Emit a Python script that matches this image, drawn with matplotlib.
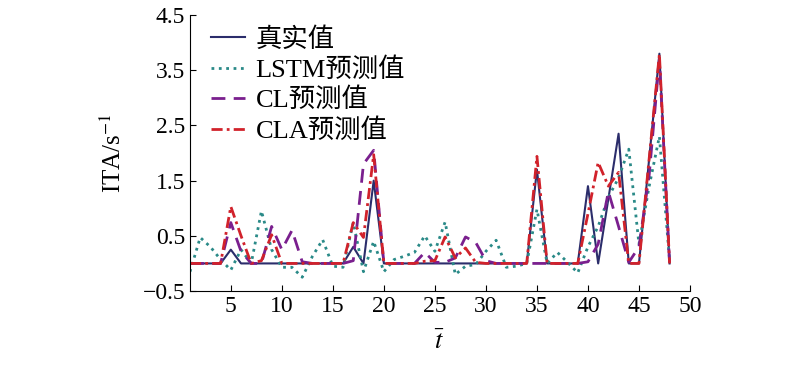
import matplotlib
matplotlib.use('Agg')
import matplotlib.pyplot as plt

plt.rcParams['font.family'] = ['Liberation Serif', 'Noto Sans CJK SC']
plt.rcParams['mathtext.fontset'] = 'stix'

# time steps 1..48
t = list(range(1, 49))

true_vals = [0, 0, 0, 0, 0.25, 0, 0, 0, 0, 0,
             0, 0, 0, 0, 0, 0, 0.3, 0, 1.5, 0,
             0, 0, 0, 0, 0, 0, 0, 0, 0, 0,
             0, 0, 0, 0, 1.7, 0, 0, 0, 0, 1.4,
             0, 1.17, 2.35, 0, 0, 1.9, 3.8, 0]

lstm_vals = [-0.15, 0.47, 0.3, 0.07, -0.12, 0.25, 0.0, 0.95, 0.25, -0.07,
             -0.07, -0.25, 0.13, 0.43, -0.05, -0.07, 0.74, -0.15, 0.4, -0.15,
             0.07, 0.13, 0.2, 0.5, 0.22, 0.75, -0.2, -0.05, -0.02, 0.22,
             0.42, -0.07, -0.05, 0.0, 0.98, 0.0, 0.2, 0.02, -0.17, 0.3,
             0.67, 1.2, 1.55, 2.07, 0.35, 1.4, 2.3, 0.05]

cl_vals = [0, 0, 0, 0, 0.74, 0.22, 0, 0, 0.67, 0.25,
           0.6, 0.03, 0, 0, 0, 0, 0.05, 1.8, 2.05, 0,
           0, 0, 0, 0.2, 0.02, 0.02, 0.1, 0.48, 0.38, 0.05,
           0, 0, 0, 0, 0, 0, 0, 0, 0, 0.03,
           0.35, 1.3, 0.67, 0.02, 0.3, 1.6, 3.7, 0]

cla_vals = [0, 0, 0, 0, 1.03, 0.5, 0, 0.05, 0.52, 0,
            0, 0, 0, 0, 0, 0, 0.74, 0.47, 1.97, 0,
            0, 0, 0, 0.04, 0.05, 0.48, 0.1, 0.28, 0.02, 0,
            0, 0, 0, 0, 1.94, 0, 0, 0, 0, 0.9,
            1.83, 1.4, 1.65, 0, 0, 1.9, 3.79, 0]

labels = ['真实值', 'LSTM预测值', 'CL预测值', 'CLA预测值']

fig = plt.figure(figsize=(8, 3.67), dpi=100)
ax = fig.add_axes([0.2375, 0.207, 0.625, 0.752])

ax.plot(t, true_vals, color='#2b2d6b', lw=1.5, ls='-', label=labels[0])
ax.plot(t, lstm_vals, color='#2a8a88', lw=2, ls=':', label=labels[1])
ax.plot(t, cl_vals, color='#7a1f8e', lw=2, ls=(0, (5, 3)), label=labels[2])
ax.plot(t, cla_vals, color='#d1222b', lw=2, ls=(0, (4, 1.5, 1, 1.5)), label=labels[3])

ax.set_xlim(1, 50)
ax.set_ylim(-0.5, 4.5)
ax.set_xticks(range(5, 51, 5))
ax.set_yticks([-0.5, 0.5, 1.5, 2.5, 3.5, 4.5])
ax.tick_params(direction='in', labelsize=17, length=4)
for s in ['top', 'right']:
    ax.spines[s].set_visible(False)

ax.set_ylabel('ITA/s$^{-1}$', fontsize=18, labelpad=12)
ax.set_xlabel(r'$\bar{t}$', fontsize=19, labelpad=10)

ax.legend(loc='upper left', frameon=False, fontsize=19, handlelength=1.3,
          handletextpad=0.4, labelspacing=0.22,
          bbox_to_anchor=(0.02, 0.995), borderaxespad=0.0)

fig.savefig('out.png', dpi=100)
